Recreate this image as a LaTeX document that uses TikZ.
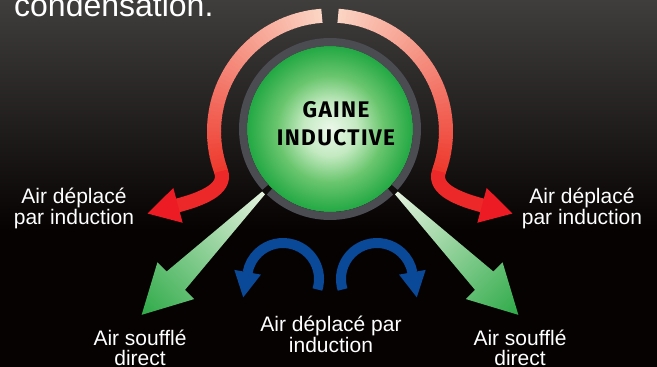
\documentclass[tikz,border=0pt]{standalone}
\usepackage{fontspec}
\setmainfont{Liberation Sans}
\newfontfamily\gainefont[LetterSpace=6]{Fira Sans}
\definecolor{bgtop}{RGB}{64,62,61}
\definecolor{bgbottom}{RGB}{6,2,2}
\definecolor{ringgray}{RGB}{74,76,81}
\definecolor{gainein}{RGB}{236,248,234}
\definecolor{gainelight}{RGB}{196,234,194}
\definecolor{gainemid}{RGB}{106,198,110}
\definecolor{gaineout}{RGB}{34,168,68}
\definecolor{greenlight}{RGB}{228,242,222}
\definecolor{greendark}{RGB}{46,170,72}
\definecolor{redtop}{RGB}{251,212,195}
\definecolor{redend}{RGB}{238,58,46}
\definecolor{redtip}{RGB}{237,28,36}
\definecolor{inductblue}{RGB}{10,72,152}
\pgfdeclareradialshading{gaineshade}{\pgfpointorigin}{color(0bp)=(gainein); color(8bp)=(gainelight); color(16bp)=(gainemid); color(25bp)=(gaineout); color(50bp)=(gaineout)}
\tikzset{
	lab/.style={text=white, align=center, inner sep=0pt, anchor=north, font=\fontsize{21}{19.5}\selectfont},
}
\begin{document}
\begin{tikzpicture}[x=1pt, y=1pt]
	% background, grey at the top and black below
	\useasboundingbox (0,0) rectangle (657,367);
	\fill[bgbottom] (0,0) rectangle (657,367);
	\shade[top color=bgtop, bottom color=bgbottom] (0,137) rectangle (657,367);
	% end of the slide text, cut by the top edge
	\node[anchor=base west, inner sep=0pt, text=white, font=\fontsize{32}{36}\selectfont] (titre) at (14,350) {condensation.};
	% induced air on both sides, light at the top and red at the arrow
	\foreach \s in {1,-1} {
		\begin{scope}[shift={(330,235.5)}, xscale=\s]
			\foreach \a in {94,96,...,198} {
				\pgfmathsetmacro\p{(\a-94)/104*100}
				\draw[color=redend!\p!redtop, line width=14] (\a:116) arc[start angle=\a, end angle=\a+2.4, radius=116];
			}
			\draw[color=redtip!60!redend, line width=14] (200:116) .. controls +(-70:20) and +(15:22) .. (-152.5,-74);
			\begin{scope}[shift={(-152.5,-74)}, rotate=195]
				\fill[redtip] (-0.5,18) -- (31,0) -- (-0.5,-18) -- cycle;
			\end{scope}
		\end{scope}
	}
	% the duct
	\node[circle, minimum size=166, inner sep=0pt, shading=gaineshade] (gaine) at (330,238) {};
	\draw[ringgray, line width=8] (gaine.center) ++(-42:87) arc[start angle=-42, end angle=222, radius=87];
	\draw[ringgray, line width=8] (gaine.center) ++(226:87) arc[start angle=226, end angle=314, radius=87];
	\node[font=\gainefont\bfseries\fontsize{22.6}{27.7}\selectfont, align=center, inner sep=0pt] (gainetxt) at ([shift={(6,5.6)}]gaine.center) {GAINE\\INDUCTIVE};
	% air blown straight out through the two slots
	\foreach \x/\ang in {263.5/225, 396.5/-45} {
		\begin{scope}[transform canvas={shift={(\x,174)}, rotate=\ang}]
			\shade[left color=greenlight, right color=greendark] (0,2) -- (124,13) -- (124,26) -- (172.3,0) -- (124,-26) -- (124,-13) -- (0,-2) -- cycle;
		\end{scope}
	}
	% induced air below, blue
	\foreach \s in {1,-1} {
		\begin{scope}[shift={(330,88)}, xscale=\s]
			\draw[inductblue, line width=10] (-47,0) ++(-17:36) arc[start angle=-17, end angle=170, radius=36];
			\begin{scope}[shift={(-82.45,6.25)}, rotate=260]
				\fill[inductblue] (-0.5,13.5) -- (25,0) -- (-0.5,-13.5) -- cycle;
			\end{scope}
		\end{scope}
	}
	% labels
	\node[lab] (indgauche) at (74,179.1) {Air déplacé\\par induction};
	\node[lab] (inddroite) at (582,179.1) {Air déplacé\\par induction};
	\node[lab] (soufgauche) at (140,37) {Air soufflé\\direct};
	\node[lab] (soufdroite) at (520,37) {Air soufflé\\direct};
	\node[lab] (indbas) at (331,50.7) {Air déplacé par\\induction};
\end{tikzpicture}
\end{document}
